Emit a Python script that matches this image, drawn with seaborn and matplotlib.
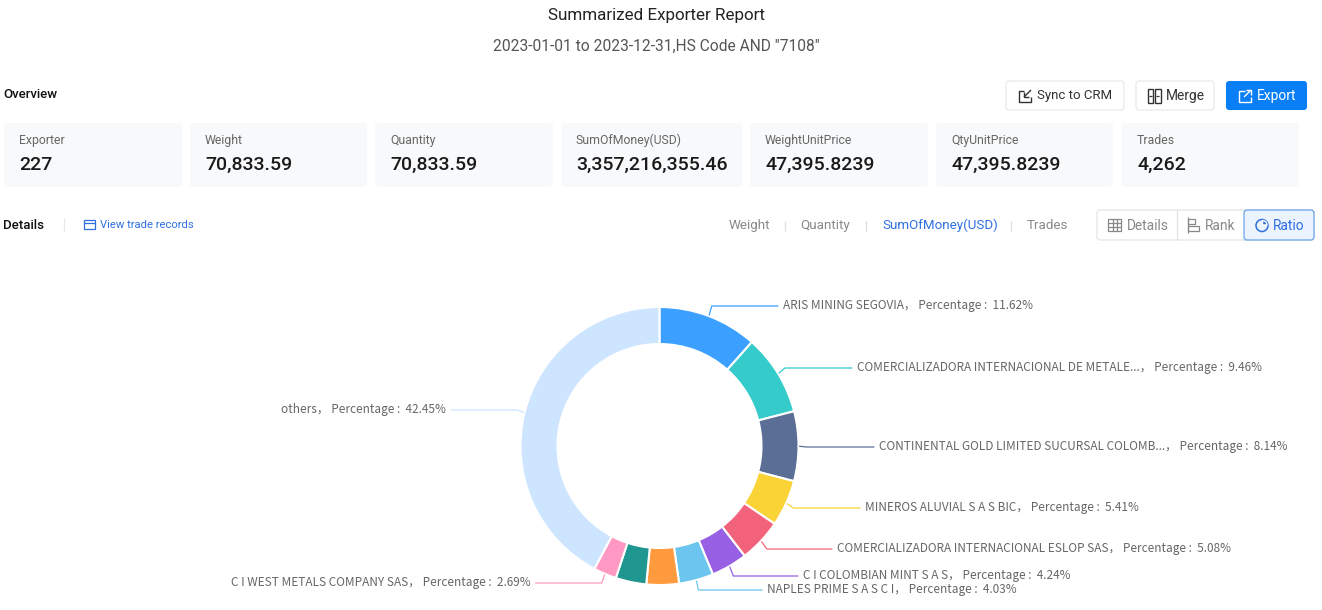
import matplotlib.pyplot as plt
import seaborn as sns
from matplotlib.patches import FancyBboxPatch, Rectangle, Wedge, Circle
import numpy as np

# data
exporters = ['ARIS MINING SEGOVIA', 'COMERCIALIZADORA INTERNACIONAL DE METALE...',
             'CONTINENTAL GOLD LIMITED SUCURSAL COLOMB...', 'MINEROS ALUVIAL S A S BIC',
             'COMERCIALIZADORA INTERNACIONAL ESLOP SAS', 'C I COLOMBIAN MINT S A S',
             'NAPLES PRIME S A S C I', '', '', 'C I WEST METALS COMPANY SAS', 'others']
percent = [11.62, 9.46, 8.14, 5.41, 5.08, 4.24, 4.03, 3.80, 3.58, 2.69, 42.45]
colors = ['#3BA0FF', '#36CBCB', '#5B6E96', '#FAD337', '#F2637B', '#975FE4',
          '#6BC5EE', '#FF9A3E', '#1F9690', '#FF99C3', '#CDE5FF']

card_titles = ['Exporter', 'Weight', 'Quantity', 'SumOfMoney(USD)', 'WeightUnitPrice', 'QtyUnitPrice', 'Trades']
card_values = ['227', '70,833.59', '70,833.59', '3,357,216,355.46', '47,395.8239', '47,395.8239', '4,262']
metric_tabs = ['Weight', 'Quantity', 'SumOfMoney(USD)', 'Trades']

# layout in pixels
card_left = [4, 190, 375, 562, 750, 936, 1122]
card_right = [182, 367, 553, 742, 928, 1113, 1299]
card_text_x = [19, 205, 390, 576, 765, 951, 1137]
tab_x = [729, 800, 882, 1027]
label_x = [783, 857, 879, 865, 837, 803, 767, None, None, 231, 281]
label_y = [305, 367, 446, 507, 548, 575, 589, None, None, 582, 409]

sns.set_theme(style='white')
plt.rcParams['font.family'] = ['Roboto', 'DejaVu Sans']

W, H = 1322, 610
fig = plt.figure(figsize=(W / 100, H / 100), dpi=100)
ax = fig.add_axes([0, 0, 1, 1])
ax.set_xlim(0, W)
ax.set_ylim(0, H)


def Y(y):
    return H - y


def txt(x, y, s, size=13, color='#666666', ha='left', **kw):
    return ax.text(x, Y(y + 1), s, fontsize=size * 0.72, color=color, ha=ha, va='center', **kw)


def box(x0, y0, x1, y1, fc, ec='none', r=3, lw=0.8, z=1):
    ax.add_patch(FancyBboxPatch((x0 + r, Y(y1) + r), x1 - x0 - 2 * r, y1 - y0 - 2 * r,
                                boxstyle=f'round,pad={r},rounding_size={r}',
                                fc=fc, ec=ec, lw=lw, zorder=z))


def outline(x, y, w, h, color, lw=0.9):
    ax.add_patch(Rectangle((x, Y(y + h)), w, h, fc='none', ec=color, lw=lw, zorder=3))


def stroke(xs, ys, color, lw=0.9, z=3):
    ax.plot(xs, [Y(v) for v in ys], color=color, lw=lw, zorder=z, solid_capstyle='butt')


# header
txt(656, 14.5, 'Summarized Exporter Report', size=17, color='#222222', ha='center')
txt(656, 45.5, '2023-01-01 to 2023-12-31,HS Code AND "7108"', size=15.5, color='#555555', ha='center')
txt(3.5, 93, 'Overview', size=13.2, color='#111111', fontweight='medium')

# buttons
box(1006, 81, 1124, 110, 'white', '#E6E6E6')
box(1136, 81, 1214, 110, 'white', '#E6E6E6')
box(1226, 81, 1307, 110, '#0A7FF5')
stroke([1024, 1019, 1019, 1031, 1031], [91, 91, 102, 102, 97], '#333333', lw=1.0)
stroke([1031, 1024], [90, 97], '#333333', lw=1.0)
stroke([1024, 1024, 1029], [92, 97, 97], '#333333', lw=1.0)
outline(1147.5, 89, 5.5, 14, '#333333', lw=1.0)
outline(1155, 89, 5.5, 14, '#333333', lw=1.0)
stroke([1149, 1152], [96, 96], '#333333')
stroke([1156, 1159], [96, 96], '#333333')
stroke([1245, 1239, 1239, 1251, 1251], [91, 91, 102, 102, 97], 'white', lw=1.0)
stroke([1244, 1251], [97, 90], 'white', lw=1.0)
stroke([1246, 1251, 1251], [90, 90, 95], 'white', lw=1.0)
txt(1037, 95, 'Sync to CRM', size=13.3, color='#333333')
txt(1166, 95, 'Merge', size=13.8, color='#333333')
txt(1257, 95, 'Export', size=13.8, color='white')

# overview cards
for x0, x1, tx, t, v in zip(card_left, card_right, card_text_x, card_titles, card_values):
    box(x0, 123, x1, 187, '#F8F9FB')
    txt(tx, 139.5, t, size=12.3, color='#666666')
    txt(tx, 163.5, v, size=19.5, color='#1A1A1A', fontweight='medium')

# details row
txt(3.5, 224.5, 'Details', size=13.2, color='#111111', fontweight='medium')
stroke([64, 64], [218, 232], '#E8E8E8')
outline(84, 220, 11, 9, '#2F6FE0')
stroke([84, 95], [223, 223], '#2F6FE0')
txt(100, 223.5, 'View trade records', size=11.3, color='#2F6FE0')

for x, t in zip(tab_x, metric_tabs):
    active = t == 'SumOfMoney(USD)'
    txt(x, 224.5, t, size=13.4, color='#2F6FE0' if active else '#888888')
for x in [785, 866, 1011]:
    stroke([x, x], [221, 231], '#DDDDDD')

box(1097, 210, 1314, 240, 'white', '#E2E2E2')
stroke([1177, 1177], [210, 240], '#E2E2E2', z=2)
box(1244, 210, 1314, 240, '#EAF3FE', '#5B9BE8', z=2)
outline(1108, 219, 13, 12, '#888888')
stroke([1108, 1121], [223, 223], '#888888')
stroke([1108, 1121], [227, 227], '#888888')
stroke([1112.5, 1112.5], [219, 231], '#888888')
stroke([1117, 1117], [219, 231], '#888888')
stroke([1188, 1188], [217, 233], '#888888')
outline(1188, 219, 7, 5, '#888888')
outline(1188, 226, 11, 5, '#888888')
ax.add_patch(Circle((1262, Y(225.5)), 6, fc='none', ec='#2F6FE0', lw=1.1, zorder=3))
ax.add_patch(Wedge((1262.5, Y(225)), 4.5, 0, 90, fc='#2F6FE0', zorder=3))
txt(1127, 224.5, 'Details', size=13.8, color='#888888')
txt(1205, 224.5, 'Rank', size=13.8, color='#888888')
txt(1273, 224.5, 'Ratio', size=13.8, color='#2F6FE0')

# donut
cx, cy, R, r_in = 659.5, Y(446), 139, 102
wedges, _ = ax.pie(percent, colors=colors, startangle=90, counterclock=False,
                   center=(cx, cy), radius=R, frame=True,
                   wedgeprops=dict(width=R - r_in, edgecolor='white', linewidth=1.5))
ax.set_xlim(0, W)
ax.set_ylim(0, H)
ax.set_aspect('auto')

# leader lines and labels
rend = fig.canvas.get_renderer()
for w, name, pct, lx, ly, col in zip(wedges, exporters, percent, label_x, label_y, colors):
    if lx is None:
        continue
    ang = np.deg2rad((w.theta1 + w.theta2) / 2)
    x1, y1 = cx + (R + 1) * np.cos(ang), cy + (R + 1) * np.sin(ang)
    x2 = cx + (R + 8) * np.cos(ang)
    y2 = Y(ly + 1)
    s = f'{name}， Percentage :  {pct:.2f}%'
    t = ax.text(lx, Y(ly + 0.5), s, fontsize=8.5, color='#666666', ha='left', va='center',
                family=['Noto Sans CJK SC', 'DejaVu Sans'])
    if np.cos(ang) > 0:
        end = lx - 5
    else:
        end = t.get_window_extent(rend).x1 + 5
    ax.plot([x1, x2, end], [y1, y2, y2], color=col, lw=0.9, zorder=1)

ax.axis('off')

fig.savefig('out.png', dpi=100, facecolor='white')
